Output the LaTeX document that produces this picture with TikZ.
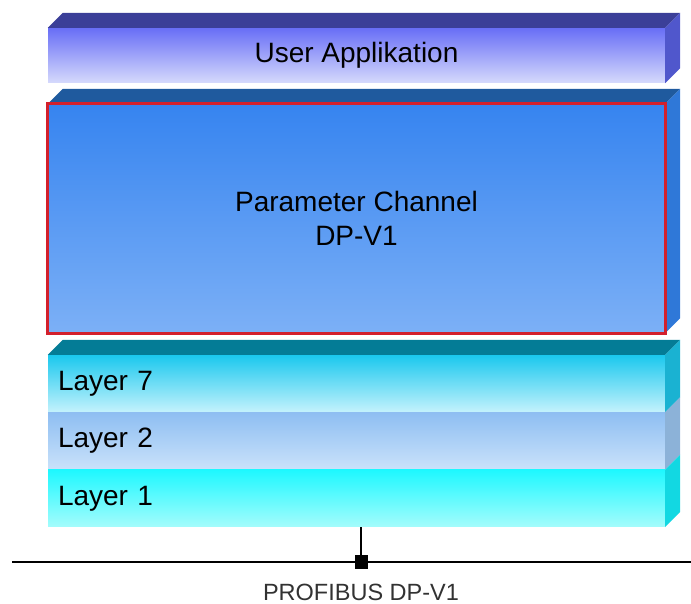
\documentclass[tikz,border=0pt]{standalone}
\usepackage{fontspec}
\setmainfont{Liberation Sans}
\usetikzlibrary{positioning}

\definecolor{usertop}{HTML}{3B3F98}
\definecolor{userside}{HTML}{5057CC}
\definecolor{paratop}{HTML}{1F5A9E}
\definecolor{paraside}{HTML}{2F78D8}
\definecolor{paraframe}{HTML}{D3202C}
\definecolor{layertop}{HTML}{047C96}
\definecolor{sevenside}{HTML}{1AB2D2}
\definecolor{twoside}{HTML}{8CB2D8}
\definecolor{oneside}{HTML}{12D8E2}

\begin{document}
\begin{tikzpicture}[x=1pt, y=-1pt,
    face/.style={rectangle, inner sep=0pt, minimum width=617pt, text=black,
                 font=\fontsize{28}{34}\selectfont},
    layer/.style={face, minimum height=57pt, text width=597pt, inner xsep=10pt, align=left}]
\useasboundingbox (0,0) rectangle (691,604);

% front faces
\node[face, minimum height=55pt, top color={rgb,255:red,104;green,110;blue,246}, bottom color={rgb,255:red,214;green,218;blue,252}] (user) at (356.5,55.5) {User Applikation};
\node[face, minimum height=229pt, top color={rgb,255:red,54;green,132;blue,240}, bottom color={rgb,255:red,124;green,176;blue,246}, align=center] (para) at (356.5,218.5) {Parameter Channel\\DP-V1};
\node[layer, top color={rgb,255:red,26;green,200;blue,238}, bottom color={rgb,255:red,196;green,242;blue,252}] (layer7) at (356.5,383.5) {Layer 7};
\node[layer, below=0pt of layer7, top color={rgb,255:red,142;green,190;blue,242}, bottom color={rgb,255:red,202;green,226;blue,250}] (layer2) {Layer 2};
\node[layer, below=0pt of layer2, top color={rgb,255:red,30;green,248;blue,255}, bottom color={rgb,255:red,164;green,252;blue,252}] (layer1) {Layer 1};

% top and side faces
\fill[usertop] (user.north west) -- ++(15pt,15pt) -- ([shift={(15pt,15pt)}]user.north east) -- (user.north east) -- cycle;
\fill[userside] (user.north east) -- ++(15pt,15pt) -- ([shift={(15pt,15pt)}]user.south east) -- (user.south east) -- cycle;
\fill[paratop] (para.north west) -- ++(15pt,15pt) -- ([shift={(15pt,15pt)}]para.north east) -- (para.north east) -- cycle;
\fill[paraside] (para.north east) -- ++(15pt,15pt) -- ([shift={(15pt,15pt)}]para.south east) -- (para.south east) -- cycle;
\fill[layertop] (layer7.north west) -- ++(15pt,15pt) -- ([shift={(15pt,15pt)}]layer7.north east) -- (layer7.north east) -- cycle;
\fill[sevenside] (layer7.north east) -- ++(15pt,15pt) -- ([shift={(15pt,15pt)}]layer7.south east) -- (layer7.south east) -- cycle;
\fill[twoside] (layer2.north east) -- ++(15pt,15pt) -- ([shift={(15pt,15pt)}]layer2.south east) -- (layer2.south east) -- cycle;
\fill[oneside] (layer1.north east) -- ++(15pt,15pt) -- ([shift={(15pt,15pt)}]layer1.south east) -- (layer1.south east) -- cycle;

\draw[paraframe, line width=3pt] (para.north west) rectangle (para.south east);

% bus
\coordinate (busL) at (12,562);
\coordinate (busR) at (691,562);
\node[fill=black, inner sep=0pt, minimum width=13pt, minimum height=14pt] (tap) at (361,562) {};
\draw[line width=2.2pt] (busL) -- (busR);
\draw[line width=2pt] (tap |- layer1.south) -- (tap);
\node[text={rgb,255:red,50;green,50;blue,50}, font=\fontsize{23.5}{28}\selectfont] (bus) at (361,592) {PROFIBUS DP-V1};
\end{tikzpicture}
\end{document}
